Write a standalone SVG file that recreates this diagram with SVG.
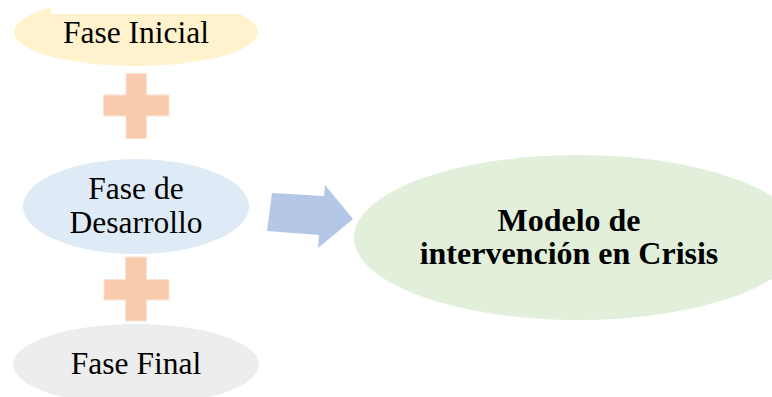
<svg xmlns="http://www.w3.org/2000/svg" width="772" height="397" viewBox="0 0 772 397">
<style>
.t{font-family:"Liberation Serif","Times New Roman",serif;font-size:31.5px;fill:#000;text-anchor:middle}
.b{font-weight:bold;font-size:32px}
.plus{fill:#F8CBAD;stroke:#FBE2D3;stroke-width:1}
</style>
<defs>
<clipPath id="topclip"><path d="M0 0 H51 V14 H772 V397 H0 Z"/></clipPath>
</defs>
<rect width="772" height="397" fill="#fff"/>
<g id="connectors">
<path class="plus" d="M126 73.5 H146.5 V95 H169 V116 H146.5 V138.5 H126 V116 H103.5 V95 H126 Z"/>
<path class="plus" d="M125.5 257 H146.5 V279.5 H169 V300 H146.5 V321 H125.5 V300 H104 V279.5 H125.5 Z"/>
<polygon points="272,193 324,196 325,185 353,219 318,248 319,235 267,231" fill="#B4C7E7"/>
</g>
<g id="fase-inicial">
<ellipse cx="136" cy="32" rx="122" ry="34" fill="#FFF2CC" clip-path="url(#topclip)"/>
<text class="t" x="136" y="43">Fase Inicial</text>
</g>
<g id="fase-desarrollo">
<ellipse cx="136" cy="206.5" rx="113" ry="47.5" fill="#DEEAF6"/>
<text class="t" x="136" y="199">Fase de</text>
<text class="t" x="136" y="233">Desarrollo</text>
</g>
<g id="fase-final">
<ellipse cx="136" cy="364.5" rx="123" ry="40.5" fill="#EDEDED"/>
<text class="t" x="136" y="374">Fase Final</text>
</g>
<g id="modelo">
<ellipse cx="578" cy="237.5" rx="224" ry="82.5" fill="#E2EFDA"/>
<text class="t b" x="569" y="231">Modelo de</text>
<text class="t b" x="569" y="264">intervención en Crisis</text>
</g>
</svg>
